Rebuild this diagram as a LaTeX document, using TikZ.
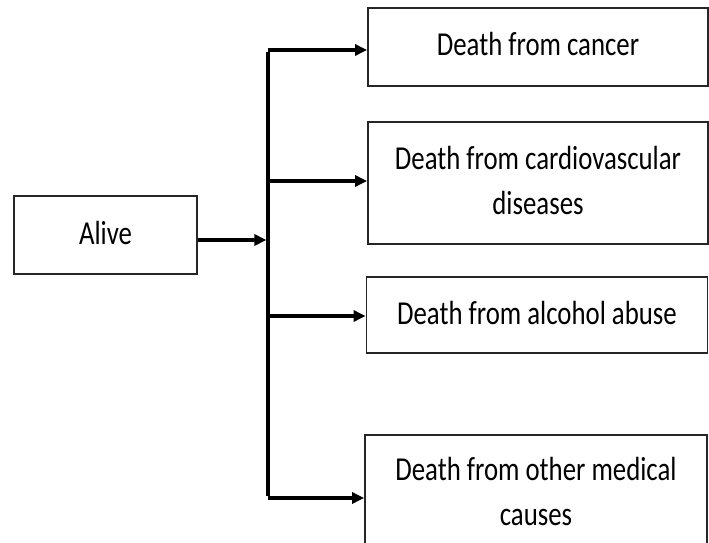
\documentclass[tikz,border=0pt]{standalone}
\usepackage{fontspec}
\setmainfont{Carlito}
\usetikzlibrary{arrows.meta}
\newcommand{\sqz}[1]{\scalebox{0.8}[1]{\begin{tabular}{@{}c@{}}#1\end{tabular}}}
\begin{document}
\begin{tikzpicture}[x=1pt,y=-1pt,
  box/.style={draw=black!85,line width=1.8pt,fill=white,inner sep=0pt,
    font=\fontsize{33.5}{45}\selectfont},
  conn/.style={line width=3.2pt,black,-{Triangle[length=12pt,width=11pt]}},
  trunk/.style={line width=3.2pt,black}]
\useasboundingbox (0,0) rectangle (709,543);
\clip (0,0) rectangle (709,543);
\node[box,minimum width=183,minimum height=78] (alive) at (105.5,235) {\sqz{Alive}};
\node[box,minimum width=340,minimum height=78] (b1) at (538,47) {\sqz{Death from cancer}};
\node[box,minimum width=340,minimum height=122] (b2) at (538,183) {\sqz{Death from cardiovascular\\diseases}};
\node[box,minimum width=341,minimum height=76] (b3) at (537,315) {\sqz{Death from alcohol abuse}};
\node[box,minimum width=342,minimum height=118] (b4) at (536,494) {\sqz{Death from other medical\\causes}};
\coordinate (t1) at (268,50);
\coordinate (t2) at (268,181);
\coordinate (t3) at (268,316);
\coordinate (t4) at (268,498);
\coordinate (tm) at (268,240);
\draw[trunk] ([yshift=-1.6pt]t1) -- ([yshift=1.6pt]t4);
\draw[conn] (alive.east |- tm) -- ([xshift=-1.6pt]tm);
\draw[conn] (t1) -- (b1.west |- t1);
\draw[conn] (t2) -- (b2.west |- t2);
\draw[conn] (t3) -- (b3.west |- t3);
\draw[conn] (t4) -- (b4.west |- t4);
\end{tikzpicture}
\end{document}
